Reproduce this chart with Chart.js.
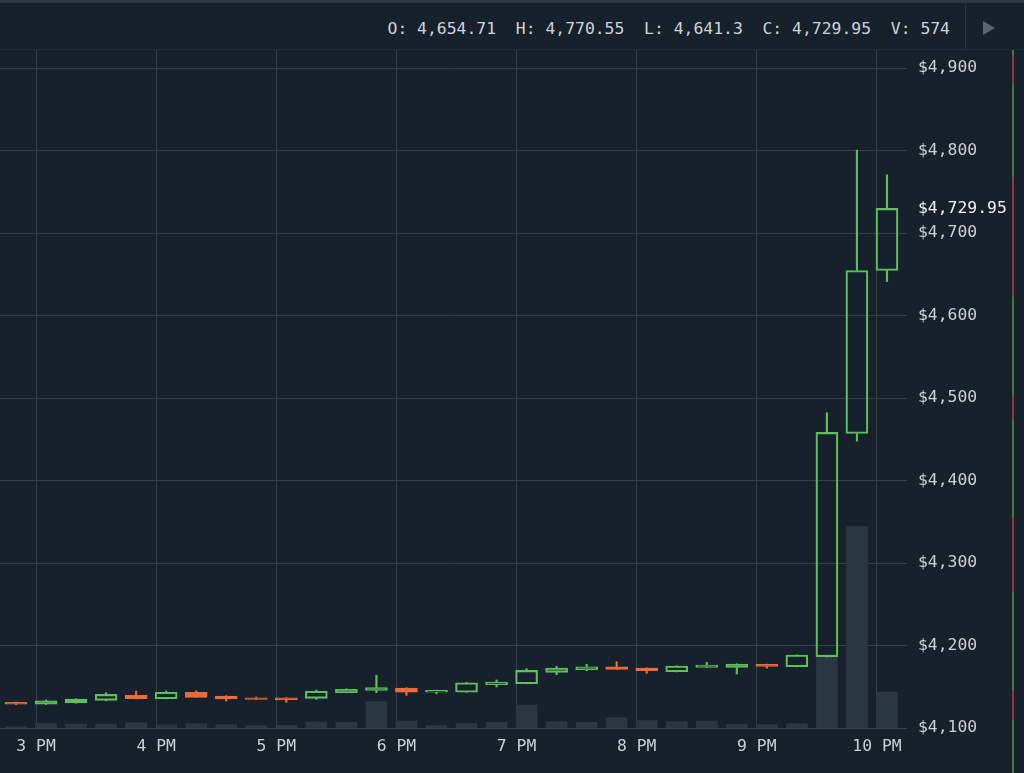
<!DOCTYPE html>
<html>
<head>
<meta charset="utf-8">
<script src="https://cdn.jsdelivr.net/npm/chart.js@4.4.1/dist/chart.umd.min.js"></script>
<style>
html, body { margin: 0; padding: 0; background: #17212b; width: 1024px; height: 773px; overflow: hidden; font-family: "DejaVu Sans Mono", monospace; }
#topline { position: absolute; left: 0; top: 0; width: 1024px; height: 3px; background: #2c3741; }
#header { position: absolute; left: 0; top: 3px; width: 1024px; height: 47px; border-bottom: 1px solid #212b35; box-sizing: border-box; }
#ohlc { position: absolute; right: 74px; top: 16px; font-size: 16.4px; line-height: 20px; color: #cdd3d9; white-space: pre; }
#sep { position: absolute; left: 965px; top: 0; width: 1px; height: 47px; background: #2a3540; }
#play { position: absolute; left: 983px; top: 18px; width: 0; height: 0; border-left: 12px solid #59646e; border-top: 7px solid transparent; border-bottom: 7px solid transparent; }
#wrap { position: absolute; left: 0; top: 50px; width: 1010px; height: 723px; }
#strip { position: absolute; left: 1012px; top: 50px; width: 2px; height: 723px;
  background: linear-gradient(to bottom,
    #3d7b3f 0px, #3d7b3f 5px, #8c3c33 5px, #8c3c33 35px, #3d7b3f 35px, #3d7b3f 127px,
    #8c3c33 127px, #8c3c33 247px, #3d7b3f 247px, #3d7b3f 345px, #8c3c33 345px, #8c3c33 370px,
    #3d7b3f 370px, #3d7b3f 468px, #8c3c33 468px, #8c3c33 542px, #3d7b3f 542px, #3d7b3f 640px,
    #8c3c33 640px, #8c3c33 670px, #3d7b3f 670px); }
</style>
</head>
<body>
<div id="topline"></div>
<div id="header"><span id="ohlc"></span><div id="sep"></div><div id="play"></div></div>
<div id="wrap"><canvas id="chart" width="1010" height="723"></canvas></div>
<div id="strip"></div>
<script>
// 15 minute candles
const times = ['14:50', '15:05', '15:20', '15:35', '15:50', '16:05', '16:20', '16:35', '16:50', '17:05',
               '17:20', '17:35', '17:50', '18:05', '18:20', '18:35', '18:50', '19:05', '19:20', '19:35',
               '19:50', '20:05', '20:20', '20:35', '20:50', '21:05', '21:20', '21:35', '21:50', '22:05'];
const open  = [4131.0, 4129.0, 4130.5, 4133.5, 4139.6, 4135.5, 4143.2, 4138.8, 4136.7, 4136.7,
               4136.0, 4142.8, 4145.7, 4148.5, 4143.3, 4143.3, 4152.5, 4153.7, 4167.5, 4170.7,
               4174.3, 4172.7, 4168.2, 4173.5, 4173.5, 4177.2, 4174.3, 4186.4, 4457.1, 4654.71];
const high  = [4131.5, 4134.0, 4135.5, 4142.8, 4144.8, 4144.8, 4145.0, 4139.2, 4137.5, 4136.9,
               4146.0, 4147.5, 4163.9, 4148.8, 4145.9, 4155.2, 4158.2, 4171.9, 4174.8, 4177.2,
               4180.4, 4172.9, 4175.4, 4179.6, 4177.8, 4177.4, 4188.7, 4482.2, 4800.6, 4770.55];
const low   = [4128.5, 4128.5, 4130.0, 4133.0, 4135.3, 4135.3, 4137.0, 4132.7, 4134.6, 4131.1,
               4134.8, 4142.6, 4142.8, 4139.6, 4141.6, 4143.1, 4149.7, 4153.5, 4164.6, 4169.5,
               4171.0, 4166.3, 4168.0, 4173.3, 4165.5, 4172.4, 4174.1, 4186.2, 4447.9, 4641.3];
const close = [4129.0, 4133.0, 4135.0, 4140.8, 4135.5, 4143.3, 4137.2, 4135.2, 4134.8, 4134.3,
               4144.8, 4146.9, 4148.9, 4143.3, 4145.7, 4154.9, 4155.8, 4169.9, 4172.7, 4174.3,
               4171.1, 4169.5, 4175.2, 4176.4, 4177.6, 4174.8, 4188.5, 4458.4, 4654.7, 4729.95];
const volume = [20, 75, 64, 64, 85, 48, 69, 53, 37, 43,
                96, 91, 420, 112, 37, 75, 91, 367, 101, 91,
                165, 117, 101, 112, 59, 53, 69, 1165, 3209, 574];

const hourTicks = [900, 960, 1020, 1080, 1140, 1200, 1260, 1320];
const hourLabels = ['3 PM', '4 PM', '5 PM', '6 PM', '7 PM', '8 PM', '9 PM', '10 PM'];
const priceTicks = [4100, 4200, 4300, 4400, 4500, 4600, 4700, 4800, 4900];

const GREEN = '#5fbf5b';
const RED = '#ef6a3b';
const GRID = '#36414c';
const TEXT = '#c9d0d6';
const FONT = { family: '"DejaVu Sans Mono", monospace', size: 16.4 };

function toMin(t) {
    const [h, m] = t.split(':').map(Number);
    return h * 60 + m;
}

const last = times.length - 1;
const lastClose = close[last];
const fmt = v => v.toLocaleString('en-US', { maximumFractionDigits: 2 });

document.getElementById('ohlc').textContent =
    'O: ' + fmt(open[last]) + '  H: ' + fmt(high[last]) + '  L: ' + fmt(low[last]) +
    '  C: ' + fmt(close[last]) + '  V: ' + volume[last];

const up = close.map((c, i) => c >= open[i]);
const candleColor = up.map(u => u ? GREEN : RED);

const bodies = times.map((t, i) => ({ x: toMin(t), y: [open[i], close[i]] }));
const upperWicks = times.map((t, i) => ({ x: toMin(t), y: [Math.max(open[i], close[i]), high[i]] }));
const lowerWicks = times.map((t, i) => ({ x: toMin(t), y: [low[i], Math.min(open[i], close[i])] }));
const volumes = times.map((t, i) => ({ x: toMin(t), y: volume[i] }));

const ctx = document.getElementById('chart').getContext('2d');
new Chart(ctx, {
    type: 'bar',
    data: {
        datasets: [
            {
                label: 'Body', order: 1, data: bodies, yAxisID: 'y', grouped: false,
                backgroundColor: up.map(u => u ? 'rgba(0,0,0,0)' : RED),
                borderColor: candleColor, borderWidth: up.map(u => u ? 1.5 : 1),
                borderSkipped: false, barThickness: 22
            },
            {
                label: 'Upper wick', order: 2, data: upperWicks, yAxisID: 'y', grouped: false,
                backgroundColor: candleColor, borderWidth: 0, barThickness: 1.5
            },
            {
                label: 'Lower wick', order: 2, data: lowerWicks, yAxisID: 'y', grouped: false,
                backgroundColor: candleColor, borderWidth: 0, barThickness: 1.5
            },
            {
                label: 'Volume', order: 3, data: volumes, yAxisID: 'yv', grouped: false,
                backgroundColor: '#2a3641', borderWidth: 0, barThickness: 21
            }
        ]
    },
    options: {
        responsive: false,
        animation: false,
        layout: { padding: 0 },
        plugins: { legend: { display: false }, tooltip: { enabled: false } },
        scales: {
            x: {
                type: 'linear', min: 882, max: 1335, offset: false,
                grid: { color: GRID, drawTicks: false, offset: false },
                border: { display: false },
                ticks: {
                    color: TEXT, font: FONT, padding: 9, maxRotation: 0, autoSkip: false,
                    callback: v => hourLabels[hourTicks.indexOf(v)] || ''
                },
                afterBuildTicks: s => { s.ticks = hourTicks.map(v => ({ value: v })); },
                afterFit: s => { s.height = 45; s.paddingLeft = 0; s.paddingRight = 0; }
            },
            y: {
                position: 'right', min: 4100, max: 4922,
                grid: {
                    color: c => (c.tick && c.tick.value === lastClose) ? 'rgba(0,0,0,0)' : GRID,
                    drawTicks: false
                },
                border: { display: false },
                ticks: {
                    padding: 11, font: FONT,
                    color: c => (c.tick && c.tick.value === lastClose) ? '#eef1f4' : TEXT,
                    callback: v => '$' + fmt(v)
                },
                afterBuildTicks: s => { s.ticks = priceTicks.concat([lastClose]).map(v => ({ value: v })); },
                afterFit: s => { s.width = 103; s.paddingTop = 0; s.paddingBottom = 0; }
            },
            yv: { display: false, min: 0, max: 10800 }
        }
    }
});
</script>
</body>
</html>
